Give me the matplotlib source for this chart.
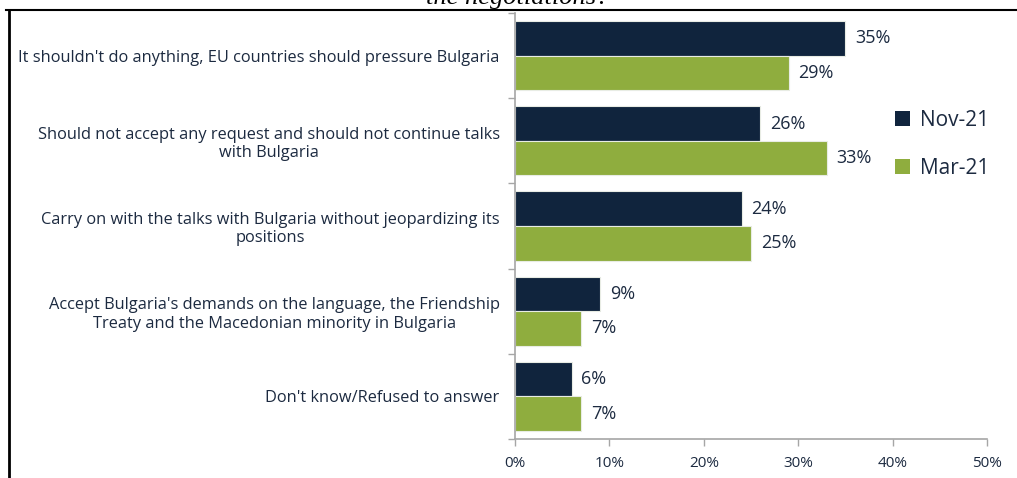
import matplotlib
matplotlib.use("Agg")
import matplotlib.pyplot as plt
from matplotlib.lines import Line2D
from matplotlib.patches import Patch

categories = [
    "It shouldn't do anything, EU countries should pressure Bulgaria",
    "Should not accept any request and should not continue talks\nwith Bulgaria",
    "Carry on with the talks with Bulgaria without jeopardizing its\npositions",
    "Accept Bulgaria's demands on the language, the Friendship\nTreaty and the Macedonian minority in Bulgaria",
    "Don't know/Refused to answer",
]
nov21 = [35, 26, 24, 9, 6]
mar21 = [29, 33, 25, 7, 7]
series_labels = ["Nov-21", "Mar-21"]
xticks = [0, 10, 20, 30, 40, 50]

NAVY = "#10243d"
GREEN = "#8fad3e"
TEXT = "#1c2a40"
AXIS = "#a6a6a6"

W, H = 1017, 478
fig = plt.figure(figsize=(W / 100, H / 100), dpi=100)
fig.patch.set_facecolor("white")

ax = fig.add_axes([515 / W, 1 - 439 / H, (987 - 515) / W, (439 - 13) / H])

bar_h = 0.405
ypos = list(range(len(categories)))
y_nov = [y - bar_h / 2 for y in ypos]
y_mar = [y + bar_h / 2 for y in ypos]

ax.barh(y_nov, nov21, height=bar_h, color=NAVY, edgecolor="#e8ece4", linewidth=0.8)
ax.barh(y_mar, mar21, height=bar_h, color=GREEN, edgecolor="#e8ece4", linewidth=0.8)

for y, v in zip(y_nov, nov21):
    ax.annotate(f"{v}%", (v, y), xytext=(7, 0), textcoords="offset points",
                va="center", ha="left", fontsize=13, color=TEXT, family="Open Sans")
for y, v in zip(y_mar, mar21):
    ax.annotate(f"{v}%", (v, y), xytext=(7, 0), textcoords="offset points",
                va="center", ha="left", fontsize=13, color=TEXT, family="Open Sans")

ax.set_xlim(0, 50)
ax.set_ylim(len(categories) - 0.5, -0.5)

ax.set_xticks(xticks)
ax.set_xticklabels([f"{t}%" for t in xticks], fontsize=11, color=TEXT, family="Open Sans")
ax.tick_params(axis="x", direction="out", length=5, color=AXIS, width=1, pad=7)

ax.set_yticks(ypos)
ax.set_yticklabels(categories, fontsize=11.8, color=TEXT, family="Open Sans",
                   multialignment="center")
ax.tick_params(axis="y", length=0, pad=11)
ax.set_yticks([y - 0.5 for y in ypos] + [len(categories) - 0.5], minor=True)
ax.tick_params(axis="y", which="minor", direction="out", length=5, color=AXIS, width=1)

for side in ("top", "right"):
    ax.spines[side].set_visible(False)
for side in ("left", "bottom"):
    ax.spines[side].set_color(AXIS)
    ax.spines[side].set_linewidth(1.2)

handles = [Patch(facecolor=NAVY), Patch(facecolor=GREEN)]
fig.legend(handles, series_labels, loc="upper left", bbox_to_anchor=(876 / W, 1 - 91 / H),
           frameon=False, labelcolor=TEXT, handlelength=0.75, handleheight=0.75,
           handletextpad=0.45, labelspacing=1.3, prop={"family": "Open Sans", "size": 15})

# frame lines around the chart block
fig.add_artist(Line2D([6 / W, 1], [1 - 10 / H, 1 - 10 / H], color="black", lw=1.5,
                      transform=fig.transFigure))
fig.add_artist(Line2D([8.5 / W, 8.5 / W], [0, 1 - 10 / H], color="black", lw=2,
                      transform=fig.transFigure))

fig.text(518 / W, 1 - 4 / H, "the negotiations?", ha="center", va="baseline",
         fontsize=19, style="italic", family="Liberation Serif", color="black")

fig.savefig("out.png", dpi=100, facecolor="white")
